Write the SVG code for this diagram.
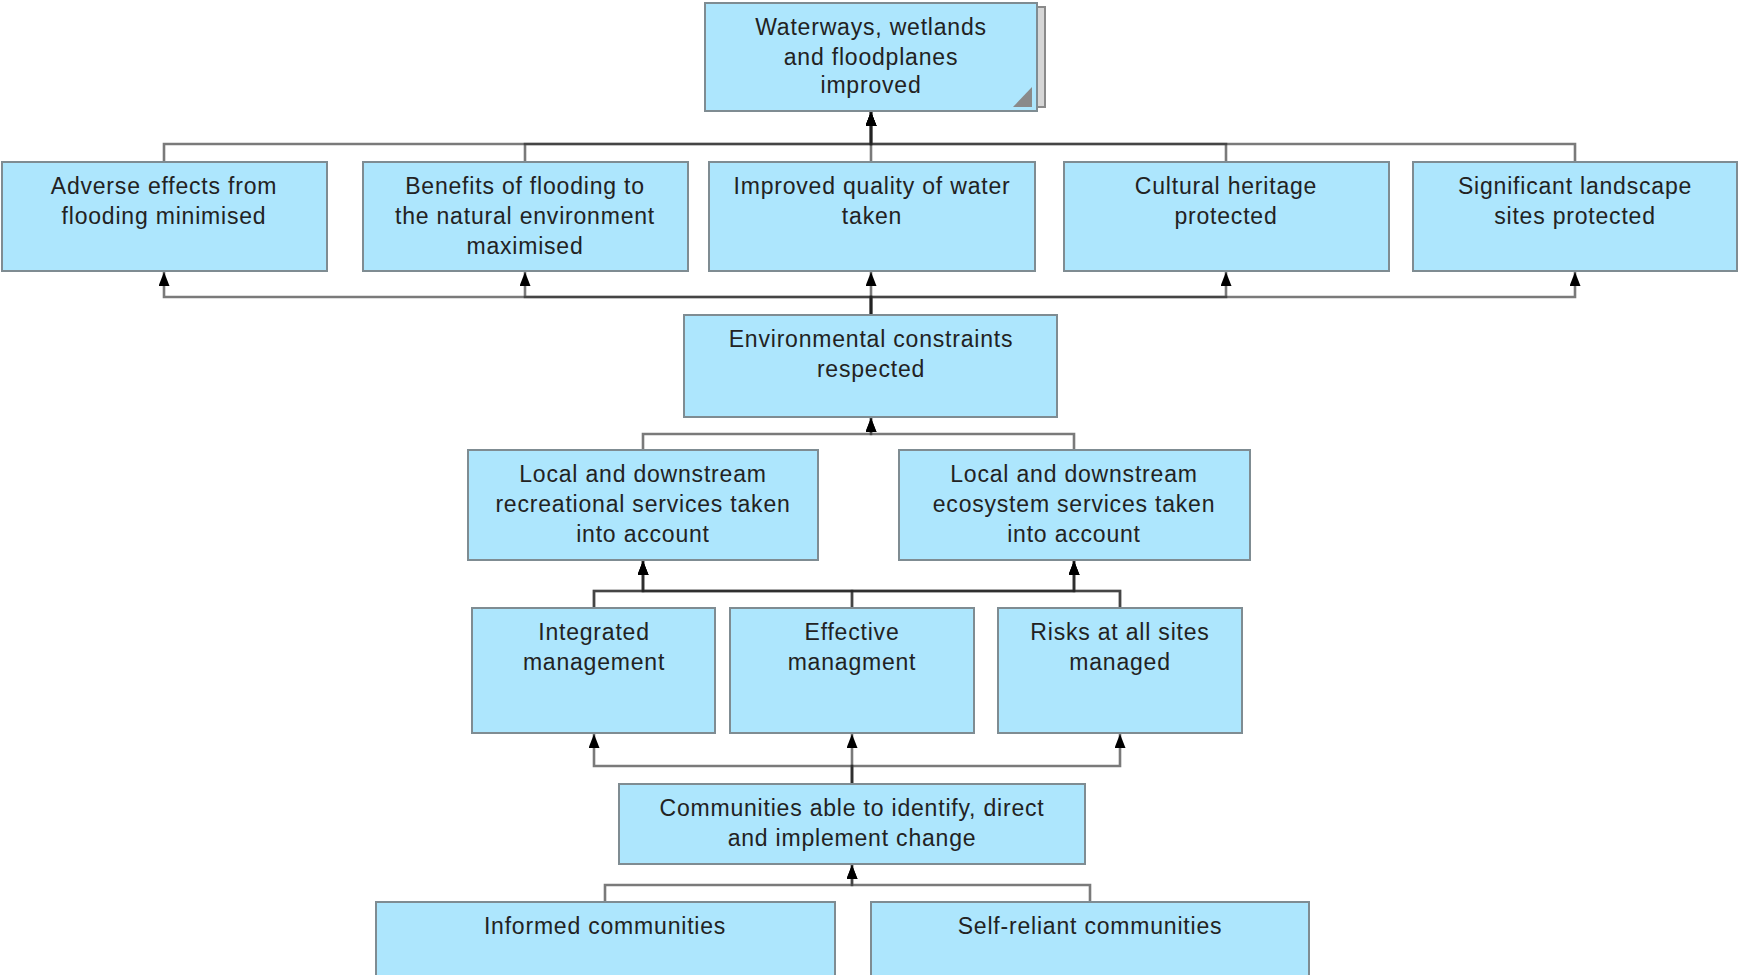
<svg xmlns="http://www.w3.org/2000/svg" width="1739" height="975" viewBox="0 0 1739 975">
<style>
.box{fill:#ade6fd;stroke:#7f8c92;stroke-width:2}
.t{font-family:"Liberation Sans",Arial,sans-serif;font-size:23px;letter-spacing:0.8px;fill:#222;text-anchor:middle}
.c{fill:none;stroke:#222;stroke-opacity:0.6;stroke-width:2.6;marker-end:url(#ah)}
</style>
<defs>
<marker id="ah" viewBox="0 0 14 11" markerWidth="14" markerHeight="11" refX="14" refY="5.5" orient="auto" markerUnits="userSpaceOnUse">
<path d="M0,0 L14,5.5 L0,11 z" fill="#000"/>
</marker>
</defs>
<rect width="1739" height="975" fill="#fff"/>
<g id="connectors">
<path class="c" d="M164 162 V144 H871 V112"/>
<path class="c" d="M525 162 V144 H871 V112"/>
<path class="c" d="M871 162 V144 H871 V112"/>
<path class="c" d="M1226 162 V144 H871 V112"/>
<path class="c" d="M1575 162 V144 H871 V112"/>
<path class="c" d="M871 315 V297 H164 V272"/>
<path class="c" d="M871 315 V297 H525 V272"/>
<path class="c" d="M871 315 V297 H871 V272"/>
<path class="c" d="M871 315 V297 H1226 V272"/>
<path class="c" d="M871 315 V297 H1575 V272"/>
<path class="c" d="M643 450 V434 H871 V418"/>
<path class="c" d="M1074 450 V434 H871 V418"/>
<path class="c" d="M594 608 V591 H643 V561"/>
<path class="c" d="M852 608 V591 H643 V561"/>
<path class="c" d="M1120 608 V591 H643 V561"/>
<path class="c" d="M594 608 V591 H1074 V561"/>
<path class="c" d="M852 608 V591 H1074 V561"/>
<path class="c" d="M1120 608 V591 H1074 V561"/>
<path class="c" d="M852 784 V766 H594 V734"/>
<path class="c" d="M852 784 V766 H852 V734"/>
<path class="c" d="M852 784 V766 H1120 V734"/>
<path class="c" d="M605 902 V885 H852 V865"/>
<path class="c" d="M1090 902 V885 H852 V865"/>
</g>
<g id="n-top">
<rect x="712" y="7" width="333" height="100" fill="#d6d6d6" stroke="#8a8a8a" stroke-width="2"/>
<rect class="box" x="705" y="3" width="332" height="108"/>
<path d="M1032 87 L1032 107 L1013 107 z" fill="#8a8a8a"/>
<text class="t" x="871" y="35">Waterways, wetlands</text>
<text class="t" x="871" y="65">and floodplanes</text>
<text class="t" x="871" y="93">improved</text>
</g>
<g id="n-adverse">
<rect class="box" x="2" y="162" width="325" height="109"/>
<text class="t" x="164" y="194">Adverse effects from</text>
<text class="t" x="164" y="224">flooding minimised</text>
</g>
<g id="n-benefits">
<rect class="box" x="363" y="162" width="325" height="109"/>
<text class="t" x="525" y="194">Benefits of flooding to</text>
<text class="t" x="525" y="224">the natural environment</text>
<text class="t" x="525" y="254">maximised</text>
</g>
<g id="n-quality">
<rect class="box" x="709" y="162" width="326" height="109"/>
<text class="t" x="872" y="194">Improved quality of water</text>
<text class="t" x="872" y="224">taken</text>
</g>
<g id="n-cultural">
<rect class="box" x="1064" y="162" width="325" height="109"/>
<text class="t" x="1226" y="194">Cultural heritage</text>
<text class="t" x="1226" y="224">protected</text>
</g>
<g id="n-landscape">
<rect class="box" x="1413" y="162" width="324" height="109"/>
<text class="t" x="1575" y="194">Significant landscape</text>
<text class="t" x="1575" y="224">sites protected</text>
</g>
<g id="n-env">
<rect class="box" x="684" y="315" width="373" height="102"/>
<text class="t" x="871" y="347">Environmental constraints</text>
<text class="t" x="871" y="377">respected</text>
</g>
<g id="n-recreational">
<rect class="box" x="468" y="450" width="350" height="110"/>
<text class="t" x="643" y="482">Local and downstream</text>
<text class="t" x="643" y="512">recreational services taken</text>
<text class="t" x="643" y="542">into account</text>
</g>
<g id="n-ecosystem">
<rect class="box" x="899" y="450" width="351" height="110"/>
<text class="t" x="1074" y="482">Local and downstream</text>
<text class="t" x="1074" y="512">ecosystem services taken</text>
<text class="t" x="1074" y="542">into account</text>
</g>
<g id="n-integrated">
<rect class="box" x="472" y="608" width="243" height="125"/>
<text class="t" x="594" y="640">Integrated</text>
<text class="t" x="594" y="670">management</text>
</g>
<g id="n-effective">
<rect class="box" x="730" y="608" width="244" height="125"/>
<text class="t" x="852" y="640">Effective</text>
<text class="t" x="852" y="670">managment</text>
</g>
<g id="n-risks">
<rect class="box" x="998" y="608" width="244" height="125"/>
<text class="t" x="1120" y="640">Risks at all sites</text>
<text class="t" x="1120" y="670">managed</text>
</g>
<g id="n-communities">
<rect class="box" x="619" y="784" width="466" height="80"/>
<text class="t" x="852" y="816">Communities able to identify, direct</text>
<text class="t" x="852" y="846">and implement change</text>
</g>
<g id="n-informed">
<rect class="box" x="376" y="902" width="459" height="85"/>
<text class="t" x="605" y="934">Informed communities</text>
</g>
<g id="n-selfreliant">
<rect class="box" x="871" y="902" width="438" height="85"/>
<text class="t" x="1090" y="934">Self-reliant communities</text>
</g>
</svg>
